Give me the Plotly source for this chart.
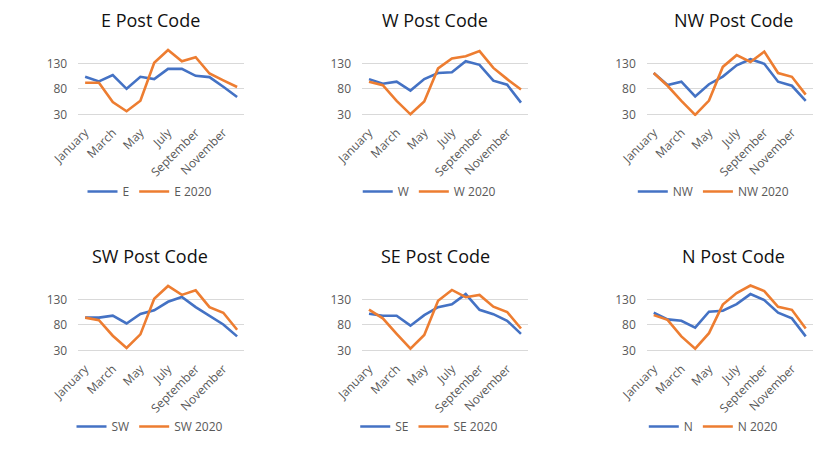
import plotly.graph_objects as go

months = ["January", "February", "March", "April", "May", "June", "July",
          "August", "September", "October", "November", "December"]
tick_labels = ["January", "March", "May", "July", "September", "November"]
y_ticks = [30, 80, 130]

E = [103.5, 94.5, 107, 80, 103.5, 99, 119, 119, 105.5, 103, 84, 64]
E_2020 = [92, 92, 54, 36, 56.5, 131, 156, 134, 142, 110, 96.5, 83.5]
W = [99, 90, 94, 76.5, 99, 111, 112.5, 134, 127, 96, 88, 53]
W_2020 = [94, 87, 56.5, 30, 55, 120, 139.5, 144, 154, 121, 99, 78.5]
NW = [111, 87.5, 94, 65, 89, 104, 126, 138, 129, 94, 86, 56.5]
NW_2020 = [111, 86, 56.5, 29, 57, 123, 146, 132.5, 153, 111, 103.5, 68.7]
SW = [94.5, 94.5, 98.4, 83, 101.6, 108.7, 125.5, 135, 115, 98.4, 81, 57.7]
SW_2020 = [94.5, 89.4, 59, 35, 61.6, 131.3, 156.5, 139, 148, 115, 104, 70.6]
SE = [102, 98, 98, 78.7, 99.4, 114.8, 120.6, 140.6, 109.7, 101.3, 88.4, 62.6]
SE_2020 = [110.3, 93, 62.6, 33.5, 60.6, 127.4, 148.7, 134.5, 139, 115.8, 105.5, 73.2]
N = [104, 91, 88.4, 75, 106, 108, 121, 140.6, 129, 104, 93, 57.7]
N_2020 = [99.4, 90, 57.7, 33.5, 64, 120, 142.6, 157.4, 146.5, 115.5, 109.7, 73.2]

panels = [
    ("E Post Code", "E", E, "E 2020", E_2020),
    ("W Post Code", "W", W, "W 2020", W_2020),
    ("NW Post Code", "NW", NW, "NW 2020", NW_2020),
    ("SW Post Code", "SW", SW, "SW 2020", SW_2020),
    ("SE Post Code", "SE", SE, "SE 2020", SE_2020),
    ("N Post Code", "N", N, "N 2020", N_2020),
]

OFF = 8  # default page body margin
W_PX, H_PX = 836 - OFF, 468 - OFF
BLUE = "#4472C4"
ORANGE = "#ED7D31"
GRID = "#D9D9D9"
TXT = "#595959"
FONT = "Open Sans"


def px(X):
    return (X - OFF) / W_PX


def py(Y):
    return 1 - (Y - OFF) / H_PX


# plot-area pixel boxes (left, right) per column, (top, bottom) per row (window coords)
cols = [(51.7, 223.3), (345.5, 517.1), (640.2, 811.8)]
rows = [(47.5, 117.8), (286.8, 357.1)]
title_x = [126, 421, 730]
legend_x = [126, 415, 709]
title_y = [20, 259]
legend_y = [194, 432]

fig = go.Figure()
layout = dict(
    width=W_PX, height=H_PX,
    margin=dict(l=0, r=0, t=0, b=0),
    paper_bgcolor="white", plot_bgcolor="white",
    showlegend=True,
    annotations=[],
)

for i, (title, n1, s1, n2, s2) in enumerate(panels):
    r, c = divmod(i, 3)
    k = i + 1
    xa = "x" if k == 1 else f"x{k}"
    ya = "y" if k == 1 else f"y{k}"
    lg = "legend" if k == 1 else f"legend{k}"
    for name, vals, color in ((n1, s1, BLUE), (n2, s2, ORANGE)):
        fig.add_trace(go.Scatter(
            x=months, y=vals, name=name, mode="lines",
            line=dict(color=color, width=2.6),
            xaxis=xa, yaxis=ya, legend=lg,
            hoverinfo="x+y+name",
        ))
    l, rr = cols[c]
    t, b = rows[r]
    layout[f"xaxis{'' if k == 1 else k}"] = dict(
        domain=[px(l), px(rr)],
        anchor=ya,
        type="category",
        categoryorder="array", categoryarray=months,
        range=[-0.5, 11.5],
        tickmode="array", tickvals=tick_labels, ticktext=tick_labels,
        tickangle=-45,
        showgrid=False, zeroline=False, showline=False,
        ticks="", ticklabelstandoff=6,
        tickfont=dict(family=FONT, size=12, color=TXT),
    )
    layout[f"yaxis{'' if k == 1 else k}"] = dict(
        domain=[py(b), py(t)],
        anchor=xa,
        range=[26, 162],
        tickmode="array", tickvals=y_ticks,
        showgrid=True, gridcolor=GRID, gridwidth=1,
        zeroline=False, showline=False,
        ticks="", ticklabelstandoff=10,
        tickfont=dict(family=FONT, size=12, color=TXT),
    )
    layout[lg] = dict(
        orientation="h",
        x=px(legend_x[c]), y=py(legend_y[r]),
        xanchor="center", yanchor="middle",
        xref="paper", yref="paper",
        font=dict(family=FONT, size=12, color=TXT),
        itemwidth=30, bgcolor="rgba(0,0,0,0)",
    )
    layout["annotations"].append(dict(
        text=title, x=px(title_x[c]), y=py(title_y[r]),
        xref="paper", yref="paper", xanchor="center", yanchor="middle",
        showarrow=False,
        font=dict(family=FONT, size=18, color="#111111"),
    ))

fig.update_layout(**layout)
fig.write_html("out.html")
